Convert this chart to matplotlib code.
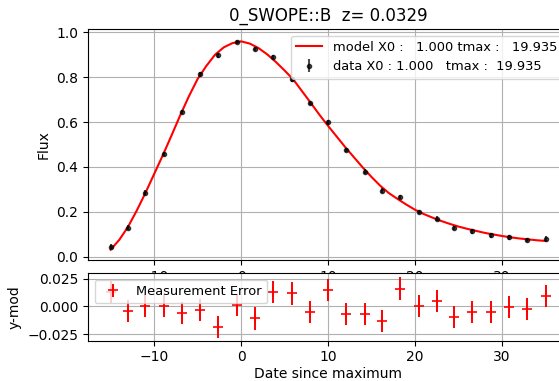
import matplotlib.pyplot as plt
import numpy as np

# observed epochs (days since maximum)
days = [-15.0, -13.0, -11.0, -8.9, -6.8, -4.7, -2.6, -0.5, 1.6, 3.7,
        5.85, 7.9, 10.0, 12.1, 14.2, 16.2, 18.3, 20.4, 22.5, 24.5,
        26.6, 28.7, 30.8, 32.9, 35.0]
flux = [0.045, 0.129, 0.285, 0.458, 0.646, 0.813, 0.897, 0.958, 0.925, 0.891,
        0.79, 0.684, 0.599, 0.475, 0.379, 0.294, 0.265, 0.199, 0.169, 0.128,
        0.113, 0.095, 0.086, 0.074, 0.080]
flux_err = 0.01
resid = [0.013, -0.0042, 0.0005, 0.0, -0.006, -0.003, -0.019, 0.001, -0.011, 0.013,
         0.0116, -0.0048, 0.0146, -0.0068, -0.0068, -0.0131, 0.016, 0.0003, 0.0047, -0.0098,
         -0.0048, -0.0048, -0.0009, -0.0021, 0.0092]

# model light curve
model_days = list(range(-15, 36))
model_flux = [0.031, 0.075, 0.133, 0.205, 0.284, 0.368, 0.452, 0.540, 0.630, 0.715,
              0.792, 0.850, 0.900, 0.933, 0.952, 0.960, 0.950, 0.930, 0.902, 0.868,
              0.830, 0.790, 0.738, 0.686, 0.633, 0.583, 0.535, 0.487, 0.442, 0.397,
              0.355, 0.316, 0.283, 0.257, 0.232, 0.209, 0.190, 0.174, 0.159, 0.146,
              0.134, 0.124, 0.115, 0.106, 0.099, 0.092, 0.086, 0.081, 0.077, 0.073, 0.070]

x0 = 1.000
tmax = 19.935
z = 0.0329
band = '0_SWOPE::B'

fig = plt.figure(figsize=(5.59, 3.81), dpi=100)
ax = fig.add_axes([88/559, 121/381, 481/559, 231/381])
ax2 = fig.add_axes([88/559, 40.3/381, 481/559, 67.4/381])

ax.plot(model_days, model_flux, color='red', lw=1.5,
        label='model X0 :   %.3f tmax :   %.3f' % (x0, tmax))
ax.errorbar(days, flux, yerr=flux_err, fmt='o', color='k', ms=3, alpha=0.7,
            label='data X0 : %.3f   tmax :  %.3f' % (x0, tmax))
ax.set_title('%s  z= %.4f' % (band, z))
ax.set_ylabel('Flux')
ax.set_xlim(-17.6, 37.7)
ax.set_ylim(-0.015, 1.015)
ax.grid(True)
ax.legend(loc='upper right', fontsize=9.4)

ax2.errorbar(days, resid, yerr=flux_err, fmt='+', color='red', ms=7, mew=1.2,
             elinewidth=1.4, label='Measurement Error')
ax2.set_xlim(-17.6, 37.7)
ax2.set_ylim(-0.031, 0.0297)
ax2.set_yticks([-0.025, 0.0, 0.025])
ax2.set_ylabel('y-mod')
ax2.set_xlabel('Date since maximum', labelpad=2)
ax2.grid(True)
ax2.legend(loc='upper left', fontsize=9.4)

fig.savefig('out.png')
